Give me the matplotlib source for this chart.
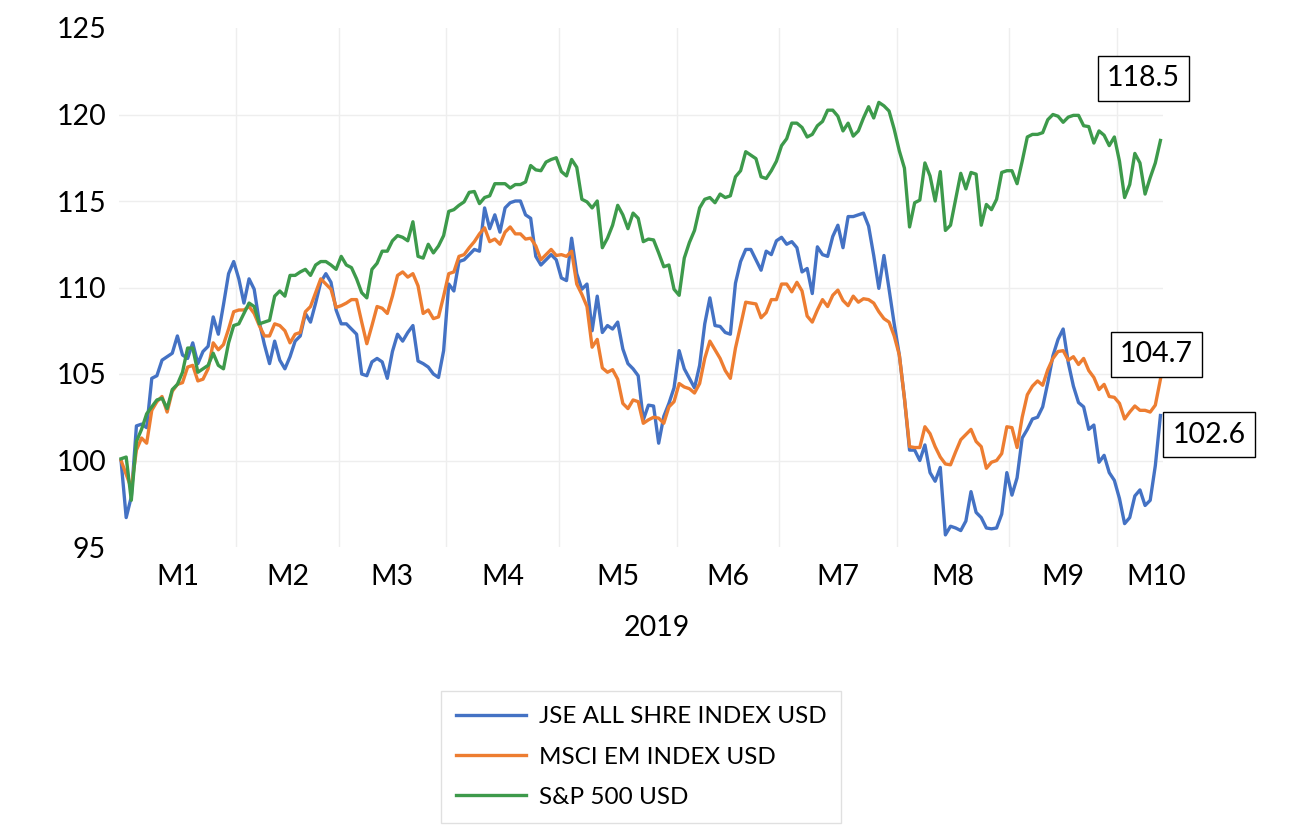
import numpy as np
import matplotlib
matplotlib.use("Agg")
import matplotlib.pyplot as plt
import matplotlib.transforms as mtransforms

# ---------------- data ----------------
month_labels = ["M1", "M2", "M3", "M4", "M5", "M6", "M7", "M8", "M9", "M10"]
month_days = [23, 20, 21, 22, 23, 20, 23, 22, 21, 9]
year_label = "2019"

jse = [100.0, 96.7, 97.9, 102.0, 102.1, 101.9, 104.75, 104.9, 105.8, 106.0,
       106.2, 107.2, 106.1, 105.9, 106.8, 105.6, 106.3, 106.6, 108.3, 107.3,
       109.0, 110.8, 111.5, 110.5, 109.1, 110.5, 109.9, 108.0, 106.7, 105.6,
       106.9, 105.8, 105.3, 106.0, 106.9, 107.2, 108.5, 108.0, 109.1, 110.3,
       110.8, 110.3, 108.7, 107.9, 107.9, 107.6, 107.3, 105.0, 104.9, 105.7,
       105.9, 105.7, 104.75, 106.3, 107.3, 106.9, 107.4, 107.8, 105.75, 105.6,
       105.4, 105.0, 104.8, 106.35, 110.2, 109.8, 111.5, 111.6, 111.9, 112.2,
       112.1, 114.6, 113.4, 114.2, 113.2, 114.6, 114.9, 115.0, 115.0, 114.2,
       114.0, 111.8, 111.3, 111.6, 111.9, 111.6, 110.55, 110.4, 112.85, 110.8,
       109.9, 110.2, 107.5, 109.5, 107.4, 107.8, 107.6, 108.0, 106.45, 105.6,
       105.3, 104.9, 102.35, 103.2, 103.15, 101.0, 102.55, 103.3, 104.2, 106.35,
       105.3, 104.75, 104.2, 105.5, 107.9, 109.4, 107.8, 107.75, 107.4, 107.3,
       110.25, 111.5, 112.2, 112.2, 111.6, 111.0, 112.1, 111.9, 112.7, 112.9,
       112.5, 112.65, 112.3, 110.9, 111.1, 109.65, 112.35, 111.9, 111.8, 112.95,
       113.6, 112.3, 114.1, 114.1, 114.2, 114.3, 113.55, 111.85, 109.95, 111.85,
       109.9, 107.9, 106.1, 103.6, 100.6, 100.6, 100.0, 100.9, 99.3, 98.8,
       99.6, 95.7, 96.2, 96.1, 95.95, 96.5, 98.2, 97.0, 96.7, 96.1,
       96.05, 96.1, 96.9, 99.3, 98.0, 99.0, 101.3, 101.8, 102.4, 102.5,
       103.1, 104.5, 106.05, 107.0, 107.6, 105.65, 104.3, 103.35, 103.1, 101.8,
       102.05, 99.9, 100.3, 99.3, 98.85, 97.8, 96.35, 96.7, 97.95, 98.3,
       97.4, 97.7, 99.7, 102.6]

msci = [100.0, 99.2, 98.4, 100.6, 101.3, 101.0, 102.9, 103.4, 103.7, 102.8,
        104.0, 104.4, 104.5, 105.4, 105.5, 104.6, 104.7, 105.3, 106.8, 106.4,
        106.7, 107.6, 108.6, 108.7, 108.7, 108.9, 108.5, 107.8, 107.2, 107.2,
        107.9, 107.8, 107.5, 106.8, 107.3, 107.4, 108.6, 108.9, 109.7, 110.5,
        110.2, 109.9, 108.85, 108.95, 109.1, 109.3, 109.3, 108.0, 106.75, 107.8,
        108.9, 108.8, 108.5, 109.5, 110.7, 110.9, 110.6, 110.8, 110.1, 108.5,
        108.7, 108.2, 108.3, 109.5, 110.8, 110.9, 111.8, 111.9, 112.3, 112.65,
        113.1, 113.45, 112.65, 112.8, 112.5, 113.2, 113.5, 113.1, 113.1, 112.8,
        112.85, 112.4, 111.6, 111.9, 112.2, 111.85, 111.9, 111.8, 112.1, 110.2,
        109.6, 108.9, 106.55, 107.0, 105.35, 105.1, 105.25, 104.7, 103.3, 103.0,
        103.5, 103.4, 102.15, 102.35, 102.5, 102.45, 102.15, 103.1, 103.4, 104.45,
        104.25, 104.15, 103.9, 104.45, 105.9, 106.9, 106.4, 105.9, 105.2, 104.75,
        106.5, 107.8, 109.15, 109.1, 109.05, 108.25, 108.55, 109.3, 109.3, 110.2,
        110.2, 109.75, 110.3, 109.8, 108.35, 108.0, 108.7, 109.3, 108.9, 109.55,
        109.85, 109.25, 108.95, 109.5, 109.15, 109.35, 109.3, 109.1, 108.6, 108.2,
        108.0, 107.2, 106.1, 103.6, 100.8, 100.75, 100.75, 101.95, 101.55, 100.8,
        100.2, 99.8, 99.75, 100.5, 101.2, 101.5, 101.8, 101.1, 100.8, 99.55,
        99.9, 100.0, 100.4, 101.95, 101.9, 100.75, 102.5, 103.8, 104.3, 104.6,
        104.35, 105.25, 105.9, 106.3, 106.35, 105.8, 106.0, 105.55, 105.9, 105.2,
        104.8, 104.1, 104.4, 103.7, 103.65, 103.3, 102.4, 102.8, 103.15, 102.9,
        102.9, 102.8, 103.2, 104.7]

sp500 = [100.1, 100.2, 97.7, 101.1, 101.8, 102.7, 103.1, 103.5, 103.6, 103.0,
         104.1, 104.4, 105.1, 106.5, 106.5, 105.1, 105.3, 105.5, 106.2, 105.5,
         105.3, 106.8, 107.8, 107.9, 108.5, 109.1, 108.9, 107.9, 108.0, 108.1,
         109.5, 109.8, 109.5, 110.7, 110.7, 110.9, 111.05, 110.7, 111.3, 111.5,
         111.5, 111.3, 111.05, 111.8, 111.3, 111.15, 110.5, 109.7, 109.4, 111.05,
         111.4, 112.1, 112.1, 112.7, 113.0, 112.9, 112.7, 113.8, 111.8, 111.7,
         112.5, 112.0, 112.4, 113.0, 114.4, 114.5, 114.75, 114.95, 115.5, 115.55,
         114.85, 115.2, 115.3, 116.0, 116.0, 116.0, 115.75, 115.95, 115.95, 116.1,
         117.05, 116.8, 116.75, 117.25, 117.4, 117.5, 116.7, 116.45, 117.4, 116.95,
         115.1, 114.95, 114.6, 115.0, 112.3, 112.85, 113.6, 114.75, 114.2, 113.4,
         114.3, 114.0, 112.65, 112.8, 112.75, 112.0, 111.2, 111.3, 109.9, 109.55,
         111.7, 112.6, 113.3, 114.6, 115.1, 115.2, 114.9, 115.4, 115.2, 115.3,
         116.4, 116.75, 117.85, 117.65, 117.45, 116.4, 116.3, 116.75, 117.3, 118.2,
         118.6, 119.5, 119.5, 119.25, 118.7, 118.85, 119.35, 119.6, 120.25, 120.25,
         119.9, 119.05, 119.5, 118.75, 119.05, 119.8, 120.45, 119.8, 120.7, 120.5,
         120.2, 119.15, 117.9, 116.9, 113.5, 114.9, 115.05, 117.2, 116.45, 115.0,
         116.7, 113.3, 113.6, 115.1, 116.6, 115.7, 116.65, 116.55, 113.6, 114.8,
         114.5, 115.1, 116.65, 116.75, 116.75, 116.0, 117.3, 118.7, 118.85, 118.85,
         118.95, 119.7, 120.0, 119.9, 119.55, 119.85, 119.95, 119.95, 119.35, 119.3,
         118.35, 119.05, 118.8, 118.2, 118.7, 117.3, 115.2, 115.95, 117.75, 117.2,
         115.4, 116.35, 117.2, 118.5]

series_names = ["JSE ALL SHRE INDEX USD", "MSCI EM INDEX USD", "S&P 500 USD"]
y_ticks = [95, 100, 105, 110, 115, 120, 125]

# ---------------- styling ----------------
colors = ["#4472C4", "#ED7D31", "#3D9A4B"]
FONT = ["Lato", "DejaVu Sans"]
plt.rcParams["font.family"] = FONT

W, H = 1312, 836
fig = plt.figure(figsize=(W / 100, H / 100), dpi=100)
ax_left, ax_right, ax_top, ax_bot = 118.5, 1163, 28, 547
ax = fig.add_axes([ax_left / W, 1 - ax_bot / H, (ax_right - ax_left) / W, (ax_bot - ax_top) / H])

series = [jse, msci, sp500]
n = len(jse)
x = np.arange(n)
lines = []
for vals, c, name in zip(series, colors, series_names):
    ln, = ax.plot(x, vals, color=c, lw=2.4, label=name, solid_joinstyle="round", zorder=3)
    lines.append(ln)

ax.set_xlim(-0.5, n - 0.5)
ax.set_ylim(y_ticks[0], y_ticks[-1])
ax.set_yticks(y_ticks)
ax.set_yticklabels([str(t) for t in y_ticks], fontsize=20.5)
ax.tick_params(axis="y", length=0, pad=9, labelcolor="black")

# month boundaries as vertical gridlines
bounds = np.cumsum(month_days)[:-1] - 0.5
starts = np.concatenate([[-0.5], np.cumsum(month_days)[:-1] - 0.5])
ends = np.cumsum(month_days) - 0.5
centers = (starts + ends) / 2
ax.set_xticks(bounds, minor=True)
ax.set_xticks([])
ax.tick_params(axis="x", which="both", length=0)
ax.grid(axis="x", which="minor", color="#eeeeee", lw=1.0, zorder=0)
for yv in y_ticks[1:-1]:
    ax.axhline(yv, color="#eeeeee", lw=1.0, zorder=0)

for s in ax.spines.values():
    s.set_visible(False)

# month labels
trans = mtransforms.blended_transform_factory(ax.transData, ax.transAxes)
label_y = -(577 - ax_bot) / (ax_bot - ax_top)
for i, (c, lab) in enumerate(zip(centers, month_labels)):
    tr = trans
    if i == len(month_labels) - 1:
        tr = trans + mtransforms.ScaledTranslation(16 / 100, 0, fig.dpi_scale_trans)
    ax.text(c, label_y, lab, transform=tr, ha="center", va="center", fontsize=20.5, color="black")

fig.text(657 / W, 1 - 628 / H, year_label, ha="center", va="center", fontsize=20.5, color="black")

# data labels on last points
offsets = [(49, -19), (-4, 25), (-17, 62)]
for vals, off in zip(series, offsets):
    ax.annotate(f"{vals[-1]:.1f}", xy=(n - 1, vals[-1]), xytext=off,
                textcoords="offset pixels", ha="center", va="center", fontsize=20.5,
                color="black", zorder=5, annotation_clip=False,
                bbox=dict(boxstyle="square,pad=0.33", fc="white", ec="black", lw=1.0))

leg = fig.legend(handles=lines, labels=series_names, loc="center",
                 bbox_to_anchor=(641 / W, 1 - 757 / H), fontsize=17.5,
                 frameon=True, fancybox=False, edgecolor="#d9d9d9",
                 handlelength=2.9, handletextpad=0.5, labelspacing=0.8,
                 borderpad=0.6)
leg.get_frame().set_linewidth(1.0)
for t in leg.get_texts():
    t.set_color("black")

fig.savefig("out.png", dpi=100, facecolor="white")
